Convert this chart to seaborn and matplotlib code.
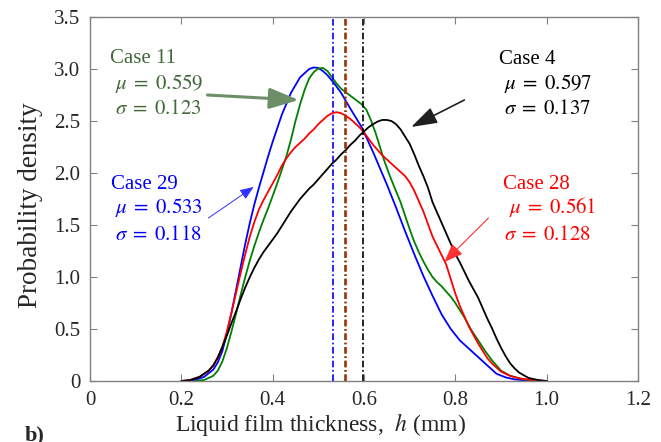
import matplotlib
matplotlib.use("Agg")
import matplotlib.pyplot as plt
import pandas as pd
import seaborn as sns

# Probability density of liquid film thickness h (mm) for four cases
case29_h = [0.21, 0.23, 0.25, 0.27, 0.28, 0.29, 0.30, 0.31, 0.32, 0.33, 0.34, 0.35, 0.36,
            0.37, 0.38, 0.39, 0.40, 0.42, 0.44, 0.46, 0.48, 0.49, 0.50, 0.51, 0.52, 0.535,
            0.55, 0.57, 0.595, 0.62, 0.65, 0.67, 0.69, 0.71, 0.73, 0.75, 0.77, 0.79, 0.81,
            0.83, 0.85, 0.87, 0.89, 0.91, 0.93, 0.96, 1.00]
case29_p = [0.00, 0.01, 0.04, 0.11, 0.18, 0.29, 0.46, 0.66, 0.88, 1.10, 1.32, 1.52, 1.70,
            1.86, 2.01, 2.16, 2.30, 2.56, 2.77, 2.92, 3.00, 3.015, 3.01, 2.98, 2.94, 2.86,
            2.77, 2.62, 2.44, 2.20, 1.89, 1.67, 1.44, 1.22, 1.01, 0.82, 0.64, 0.50, 0.39,
            0.31, 0.23, 0.15, 0.07, 0.035, 0.015, 0.005, 0.00]

case11_h = [0.23, 0.25, 0.27, 0.28, 0.29, 0.30, 0.31, 0.32, 0.33, 0.34, 0.35, 0.36, 0.37,
            0.38, 0.39, 0.40, 0.41, 0.42, 0.43, 0.44, 0.45, 0.46, 0.47, 0.48, 0.49, 0.50,
            0.51, 0.52, 0.53, 0.54, 0.55, 0.565, 0.58, 0.595, 0.605, 0.615, 0.625, 0.635,
            0.645, 0.655, 0.665, 0.68, 0.69, 0.70, 0.71, 0.72, 0.73, 0.74, 0.75, 0.76, 0.77,
            0.78, 0.79, 0.80, 0.81, 0.82, 0.835, 0.85, 0.865, 0.88, 0.90, 0.92, 0.95, 0.98]
case11_p = [0.00, 0.01, 0.05, 0.10, 0.19, 0.32, 0.48, 0.65, 0.83, 1.00, 1.16, 1.30, 1.43,
            1.55, 1.66, 1.78, 1.90, 2.03, 2.16, 2.32, 2.50, 2.66, 2.80, 2.91, 2.97, 3.005,
            3.01, 2.98, 2.92, 2.86, 2.81, 2.76, 2.71, 2.66, 2.61, 2.51, 2.39, 2.25,
            2.11, 1.99, 1.88, 1.72, 1.59, 1.46, 1.34, 1.24, 1.15, 1.07, 1.00, 0.95, 0.91,
            0.86, 0.81, 0.75, 0.68, 0.61, 0.49, 0.39, 0.29, 0.20, 0.10, 0.05, 0.015, 0.00]

case28_h = [0.20, 0.22, 0.24, 0.26, 0.27, 0.28, 0.29, 0.30, 0.31, 0.32, 0.33, 0.34, 0.35,
            0.36, 0.37, 0.38, 0.39, 0.40, 0.41, 0.42, 0.43, 0.44, 0.45, 0.46, 0.47, 0.48,
            0.49, 0.50, 0.51, 0.52, 0.53, 0.54, 0.55, 0.56, 0.57, 0.58, 0.59, 0.60, 0.61,
            0.62, 0.63, 0.64, 0.65, 0.66, 0.67, 0.68, 0.69, 0.70, 0.71, 0.72, 0.73, 0.74,
            0.75, 0.76, 0.77, 0.78, 0.79, 0.80, 0.81, 0.82, 0.83, 0.84, 0.85, 0.86, 0.87,
            0.88, 0.90, 0.92, 0.94, 0.97, 1.00]
case28_p = [0.00, 0.01, 0.04, 0.10, 0.15, 0.22, 0.33, 0.48, 0.66, 0.85, 1.04, 1.22, 1.39,
            1.53, 1.65, 1.74, 1.82, 1.90, 1.98, 2.07, 2.14, 2.20, 2.25, 2.29, 2.33, 2.38,
            2.42, 2.47, 2.51, 2.55, 2.575, 2.585, 2.575, 2.55, 2.52, 2.48, 2.44, 2.39, 2.33,
            2.27, 2.22, 2.17, 2.13, 2.09, 2.05, 2.01, 1.97, 1.91, 1.83, 1.73, 1.63, 1.51,
            1.39, 1.30, 1.21, 1.12, 0.98, 0.84, 0.72, 0.62, 0.52, 0.44, 0.36, 0.29, 0.22,
            0.17, 0.09, 0.05, 0.025, 0.008, 0.00]

case4_h = [0.20, 0.22, 0.24, 0.26, 0.27, 0.28, 0.29, 0.30, 0.31, 0.32, 0.33, 0.34, 0.35,
           0.36, 0.37, 0.38, 0.39, 0.40, 0.41, 0.42, 0.43, 0.44, 0.45, 0.46, 0.47, 0.48,
           0.49, 0.50, 0.51, 0.52, 0.53, 0.54, 0.55, 0.56, 0.57, 0.58, 0.59, 0.60, 0.61,
           0.62, 0.63, 0.64, 0.65, 0.66, 0.67, 0.68, 0.69, 0.70, 0.71, 0.72, 0.73, 0.74,
           0.75, 0.76, 0.77, 0.78, 0.79, 0.80, 0.81, 0.82, 0.83, 0.84, 0.85, 0.86, 0.87,
           0.88, 0.89, 0.90, 0.91, 0.92, 0.93, 0.94, 0.96, 0.98, 1.00]
case4_p = [0.00, 0.01, 0.04, 0.10, 0.15, 0.23, 0.33, 0.44, 0.56, 0.67, 0.79, 0.90, 1.00,
           1.09, 1.17, 1.24, 1.30, 1.36, 1.42, 1.49, 1.56, 1.63, 1.69, 1.75, 1.80, 1.85,
           1.89, 1.94, 1.99, 2.04, 2.09, 2.13, 2.18, 2.22, 2.27, 2.31, 2.36, 2.40, 2.44,
           2.47, 2.495, 2.51, 2.51, 2.50, 2.47, 2.42, 2.35, 2.28, 2.18, 2.07, 1.97, 1.86,
           1.72, 1.62, 1.52, 1.42, 1.32, 1.22, 1.14, 1.05, 0.96, 0.88, 0.80, 0.70, 0.60,
           0.51, 0.41, 0.32, 0.24, 0.17, 0.12, 0.08, 0.03, 0.01, 0.00]

case_names = ["Case 29", "Case 11", "Case 28", "Case 4"]
means = [0.533, 0.559, 0.561, 0.597]
sigmas = [0.118, 0.123, 0.128, 0.137]
line_colors = ["#0000ff", "#008000", "#ff0000", "#000000"]
text_colors = ["#0000ff", "#41693a", "#ff0000", "#000000"]

x_ticks = [0, 0.2, 0.4, 0.6, 0.8, 1.0, 1.2]
x_tick_labels = ["0", "0.2", "0.4", "0.6", "0.8", "1.0", "1.2"]
y_ticks = [0, 0.5, 1.0, 1.5, 2.0, 2.5, 3.0, 3.5]
y_tick_labels = ["0", "0.5", "1.0", "1.5", "2.0", "2.5", "3.0", "3.5"]

frames = []
for name, h, p in [("Case 29", case29_h, case29_p), ("Case 11", case11_h, case11_p),
                   ("Case 28", case28_h, case28_p), ("Case 4", case4_h, case4_p)]:
    frames.append(pd.DataFrame({"h": h, "p": p, "case": name}))
df = pd.concat(frames, ignore_index=True)

sns.set_style("ticks")
plt.rcParams["font.family"] = ["Liberation Serif", "DejaVu Serif"]
plt.rcParams["mathtext.fontset"] = "stix"

W, H = 661, 442
fig = plt.figure(figsize=(W / 100, H / 100), dpi=100)
ax = fig.add_axes([90 / W, 1 - 381 / H, 548 / W, 364 / H])

sns.lineplot(data=df, x="h", y="p", hue="case", hue_order=case_names,
             palette=dict(zip(case_names, line_colors)), estimator=None, sort=False,
             linewidth=1.3, legend=False, ax=ax)

# mean thickness markers
for m, c in zip(means, line_colors):
    ax.axvline(m, color=c, linestyle=(0, (4, 1.6, 1, 1.6)), linewidth=1.2, zorder=3)

ax.set_xlim(0, 1.2)
ax.set_ylim(0, 3.5)
ax.set_xticks(x_ticks)
ax.set_xticklabels(x_tick_labels)
ax.set_yticks(y_ticks)
ax.set_yticklabels(y_tick_labels)
ax.tick_params(direction="in", length=5, width=0.8, color="#808080",
               labelsize=15, top=True, right=True, pad=7)
for s in ax.spines.values():
    s.set_color("#808080")
    s.set_linewidth(1.0)

ax.set_xlabel(r"Liquid film thickness,  $h$ (mm)", fontsize=17)
ax.set_ylabel("Probability density", fontsize=19.5)
ax.xaxis.set_label_coords(0.4215, -0.083)
ax.yaxis.set_label_coords(-0.085, 0.483)


def px(x, y):
    return (x - 90) / 455, (381 - y) / 104


# case labels: (case index, [(x_px, baseline_px) for the three lines])
label_pos = {
    1: [(110, 63), (115, 89), (115, 114)],
    0: [(111, 189), (115, 213), (115, 240)],
    3: [(498, 64), (502, 89), (502, 114)],
    2: [(501, 189), (507, 213), (502, 240)],
}
for i, pos in label_pos.items():
    lines = [case_names[i], rf"$\mu\;=\;{means[i]:.3f}$", rf"$\sigma\;=\;{sigmas[i]:.3f}$"]
    for txt, (xp, yp) in zip(lines, pos):
        ax.text(*px(xp, yp), txt, color=text_colors[i], fontsize=15,
                ha="left", va="baseline")

# arrows: tail -> head in pixel positions
arrows = [
    ((207, 95), (298, 100), "#6d8f68", 2.2, "-|>,head_length=0.9,head_width=0.32", 20),
    ((208, 218), (253, 187), "#3030ff", 0.7, "-|>,head_length=0.55,head_width=0.22", 15),
    ((463, 100), (410, 127), "#202020", 1.2, "-|>,head_length=0.8,head_width=0.26", 20),
    ((487, 218), (443, 262), "#ff3030", 0.8, "-|>,head_length=0.65,head_width=0.25", 18),
]
for tail, head, c, lw, style, ms in arrows:
    ax.annotate("", xy=px(*head), xytext=px(*tail),
                arrowprops=dict(arrowstyle=style, color=c, lw=lw, mutation_scale=ms,
                                shrinkA=0, shrinkB=0))

fig.text(25 / W, 2 / H, "b)", fontsize=16, fontweight="bold", ha="left", va="baseline")

fig.savefig("out.png", dpi=100)
